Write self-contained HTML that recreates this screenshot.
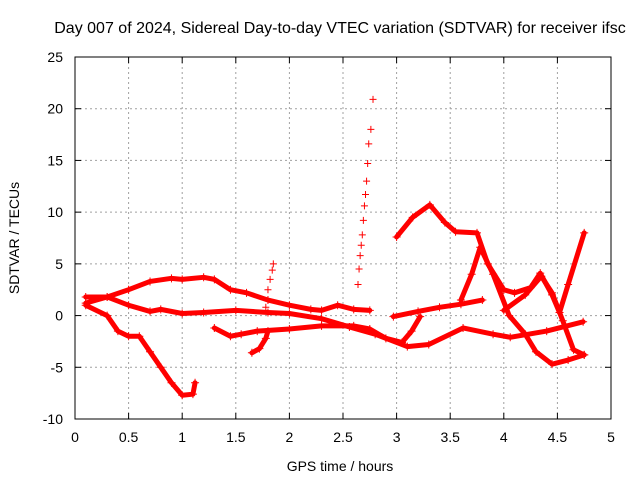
<!DOCTYPE html>
<html><head><meta charset="utf-8"><style>
body{margin:0;background:#fff;}
svg text{font-family:"Liberation Sans",sans-serif;font-size:14px;fill:#000;}
</style></head><body>
<svg id="chart" width="640" height="480" viewBox="0 0 640 480" xmlns="http://www.w3.org/2000/svg">
<rect width="640" height="480" fill="#fff"/>
<text x="340" y="33" text-anchor="middle" style="font-size:16px">Day 007 of 2024, Sidereal Day-to-day VTEC variation (SDTVAR) for receiver ifsc</text>
<g id="grid"></g><g id="axes"></g><g id="series"></g>
<text x="340" y="471" text-anchor="middle">GPS time / hours</text>
<text transform="translate(19,238) rotate(-90)" text-anchor="middle">SDTVAR / TECUs</text>
</svg>
<script>
const xTicks=[0,0.5,1,1.5,2,2.5,3,3.5,4,4.5,5];
const xTickLabels=["0","0.5","1","1.5","2","2.5","3","3.5","4","4.5","5"];
const yTicks=[-10,-5,0,5,10,15,20,25];
const yTickLabels=["-10","-5","0","5","10","15","20","25"];
const upperArcH=[0.1,0.3,0.5,0.7,0.9,1.0,1.2,1.3,1.45,1.6,1.8,2.0,2.2,2.3,2.45,2.6,2.75];
const upperArcV=[1.8,1.8,2.5,3.3,3.6,3.5,3.7,3.5,2.5,2.2,1.5,1.0,0.6,0.5,1.0,0.6,0.5];
const middleH=[0.1,0.3,0.5,0.7,0.8,1.0,1.2,1.5,1.8,2.0,2.3,2.56,2.8,3.1,3.3,3.62,3.9,4.06,4.4,4.74];
const middleV=[1.2,1.8,1.0,0.4,0.6,0.2,0.3,0.5,0.3,0.2,-0.3,-1.1,-1.8,-3.0,-2.8,-1.2,-1.8,-2.1,-1.5,-0.6];
const dropH=[0.1,0.3,0.4,0.5,0.6,0.7,0.8,0.9,1.0,1.1,1.12];
const dropV=[1.0,0.0,-1.5,-2.0,-2.0,-3.5,-5.0,-6.5,-7.7,-7.6,-6.5];
const lowBandH=[1.3,1.45,1.55,1.7,2.0,2.3,2.6,2.75,2.9,3.05,3.14,3.22];
const lowBandV=[-1.2,-2.0,-1.8,-1.5,-1.3,-1.0,-1.0,-1.3,-2.2,-2.6,-1.5,-0.1];
const steepH=[3.6,3.7,3.78,3.9,4.05,4.2,4.3,4.45,4.6,4.75];
const steepV=[1.5,4.0,6.6,4.0,0.0,-1.8,-3.5,-4.7,-4.3,-3.8];
const topArcH=[3.0,3.15,3.31,3.45,3.55,3.75,3.85,4.0,4.1,4.25,4.34,4.45,4.52,4.6,4.75];
const topArcV=[7.6,9.5,10.7,9.0,8.1,8.0,5.0,2.5,2.2,2.7,4.1,2.0,0.3,3.0,8.0];
const riseBandH=[2.97,3.2,3.4,3.6,3.8];
const riseBandV=[-0.1,0.4,0.8,1.1,1.5];
const humpH=[4.0,4.2,4.35,4.45,4.55,4.65,4.75];
const humpV=[0.5,2.0,3.8,2.2,-0.5,-3.3,-3.8];
const spikeH=[2.64,2.65,2.66,2.67,2.68,2.69,2.7,2.71,2.72,2.73,2.74,2.76,2.78];
const spikeV=[3.0,4.5,5.8,6.8,7.8,9.2,10.6,11.7,13.0,14.7,16.6,18.0,20.9];
const spike2H=[1.78,1.8,1.82,1.84,1.85];
const spike2V=[0.8,2.5,3.5,4.4,5.0];
const smallH=[1.65,1.72,1.78,1.8];
const smallV=[-3.6,-3.2,-2.2,-1.5];
const series=[[upperArcH,upperArcV,'upper-arc'],[middleH,middleV,'middle-curve'],[dropH,dropV,'drop-curve'],[lowBandH,lowBandV,'low-band'],[steepH,steepV,'steep-peak'],[topArcH,topArcV,'top-arc'],[riseBandH,riseBandV,'rise-band'],[humpH,humpV,'hump-curve'],[smallH,smallV,'small-segment']];
const sparse=[[spikeH,spikeV,'spike-2p7'],[spike2H,spike2V,'spike-1p8']];
const X0=75,X1=611,Y0=419,Y1=57,xmin=0,xmax=5,ymin=-10,ymax=25;
const px=h=>X0+(h-xmin)/(xmax-xmin)*(X1-X0);
const py=v=>Y0-(v-ymin)/(ymax-ymin)*(Y0-Y1);
const NS='http://www.w3.org/2000/svg';
function mk(tag,attrs,parent){const e=document.createElementNS(NS,tag);for(const k in attrs)e.setAttribute(k,attrs[k]);parent.appendChild(e);return e;}
const grid=document.getElementById('grid'),axes=document.getElementById('axes'),sg=document.getElementById('series');
xTicks.forEach((t,i)=>{const x=px(t);
 if(i>0&&i<xTicks.length-1){const g=mk('line',{x1:x,x2:x,y1:Y1,y2:Y0,stroke:'#a0a0a0','stroke-dasharray':'2,3'},grid);
 
 }
 mk('line',{x1:x,x2:x,y1:Y0,y2:Y0-6,stroke:'#000'},axes);mk('line',{x1:x,x2:x,y1:Y1,y2:Y1+6,stroke:'#000'},axes);
 const tx=mk('text',{x:x,y:Y0+23,'text-anchor':'middle'},axes);tx.textContent=xTickLabels[i];
 
 });
yTicks.forEach((t,i)=>{const y=py(t);
 if(i>0&&i<yTicks.length-1){const g=mk('line',{x1:X0,x2:X1,y1:y,y2:y,stroke:'#a0a0a0','stroke-dasharray':'2,3'},grid);
 
 }
 mk('line',{x1:X0,x2:X0+6,y1:y,y2:y,stroke:'#000'},axes);mk('line',{x1:X1,x2:X1-6,y1:y,y2:y,stroke:'#000'},axes);
 const tx=mk('text',{x:X0-12,y:y+5,'text-anchor':'end'},axes);tx.textContent=yTickLabels[i];
 
 });
const fr=mk('rect',{x:X0,y:Y1,width:X1-X0,height:Y0-Y1,fill:'none',stroke:'#000'},axes);


function plus(x,y,g,s){mk('path',{d:`M${x-s},${y}H${x+s}M${x},${y-s}V${y+s}`,stroke:'#f00','stroke-width':1,fill:'none'},g);}
series.forEach(([H,V,name])=>{const g=mk('g',{},sg);
 
 
 const pts=H.map((h,i)=>px(h)+','+py(V[i])).join(' ');
 mk('polyline',{points:pts,fill:'none',stroke:'#f00','stroke-width':5,'stroke-linejoin':'round','stroke-linecap':'round'},g);
 H.forEach((h,i)=>plus(px(h),py(V[i]),g,4));});
sparse.forEach(([H,V,name])=>{const g=mk('g',{},sg);
 
 
 H.forEach((h,i)=>plus(px(h),py(V[i]),g,3.5));});
</script>
</body></html>
